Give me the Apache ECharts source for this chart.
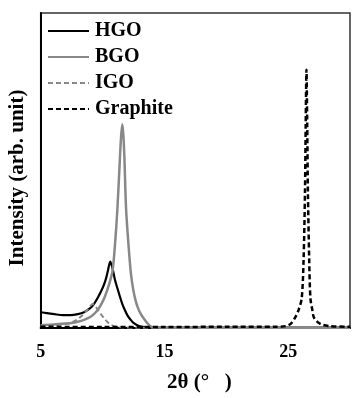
<!DOCTYPE html>
<html><head><meta charset="utf-8">
<script src="https://cdn.jsdelivr.net/npm/echarts@6/dist/echarts.min.js"></script>
<style>html,body{margin:0;padding:0;background:#fff}#c{width:353px;height:398px}</style>
</head><body><div id="c"></div>
<script>
var seriesNames = ['HGO', 'BGO', 'IGO', 'Graphite'];
var xTicks = [5, 15, 25];
var hgo = [[5.0,5.0],[5.5,4.7],[6.1,4.4],[6.8,4.1],[7.4,4.1],[8.0,4.4],[8.5,5.0],[9.0,6.3],[9.3,7.6],[9.6,9.5],[9.9,11.8],[10.1,13.6],[10.3,16.0],[10.45,18.5],[10.62,21.1],[10.75,19.8],[10.9,17.2],[11.0,15.3],[11.2,12.6],[11.4,10.0],[11.6,7.6],[11.8,5.7],[12.0,4.1],[12.25,2.7],[12.5,1.6],[13.0,0.5],[13.7,0.2],[15,0.1],[30,0.1]];
var bgo = [[5.0,0.9],[6.0,1.1],[7.0,1.4],[7.5,1.6],[8.0,2.0],[8.5,2.6],[9.0,3.5],[9.3,4.4],[9.6,5.7],[9.9,7.6],[10.2,10.1],[10.5,13.5],[10.8,18.0],[11.0,26.2],[11.2,37.9],[11.4,53.6],[11.5,61.0],[11.6,64.7],[11.7,60.0],[11.77,53.6],[11.9,37.9],[12.1,26.2],[12.3,17.0],[12.5,11.7],[12.7,8.3],[12.9,6.0],[13.1,4.4],[13.3,3.2],[13.6,1.6],[14.0,0.3],[15,0.1],[30,0.1]];
var igo = [[5.0,0.6],[6.0,0.8],[7.0,1.3],[7.4,1.6],[7.9,2.6],[8.3,3.8],[8.8,5.9],[9.0,6.9],[9.2,7.6],[9.4,7.0],[9.6,5.9],[9.85,4.5],[10.1,3.2],[10.5,1.5],[10.9,0.6],[11.5,0.2],[13,0.1],[30,0.1]];
var graphite = [[5,0.4],[10,0.3],[15,0.3],[20,0.4],[24,0.4],[24.8,0.6],[25.2,1.3],[25.55,3.2],[25.85,5.8],[26.1,9.5],[26.25,22],[26.36,43],[26.42,65],[26.48,82],[26.54,65],[26.6,43],[26.7,22],[26.8,9.5],[26.95,5.8],[27.1,3.2],[27.6,1.3],[28.4,0.6],[30,0.4]];

var FONT = '"Liberation Serif","Times New Roman",serif';
var chart = echarts.init(document.getElementById('c'), null, {renderer:'canvas'});
function mk(name, data, color, type, width) {
  return {name:name, type:'line', data:data, symbol:'none', showSymbol:false, smooth:0.3,
    lineStyle:{color:color, type:type, width:width}, itemStyle:{color:color}, animation:false};
}
chart.setOption({
  animation:false,
  grid:{left:40.7, right:1.5, top:13, bottom:68, show:true, borderColor:'#333', borderWidth:1.5},
  legend:{orient:'vertical', left:47, top:21, padding:0, itemWidth:41, itemHeight:14, itemGap:6,
    itemStyle:{color:'transparent', borderColor:'transparent', borderWidth:0},
    data:seriesNames, textStyle:{fontFamily:FONT, fontWeight:'bold', fontSize:20, color:'#000', lineHeight:19, padding:[0,0,0,1]}},
  xAxis:{type:'value', min:5, max:30, interval:10,
    axisLine:{show:true, lineStyle:{color:'#000', width:2}}, axisTick:{show:false}, splitLine:{show:false},
    axisLabel:{fontFamily:FONT, fontWeight:'bold', fontSize:18, color:'#000', margin:15,
      formatter:function(v){return xTicks.indexOf(v)>=0 ? String(v) : '';}},
    name:'2θ (°   )', nameLocation:'middle', nameGap:44,
    nameTextStyle:{fontFamily:FONT, fontWeight:'bold', fontSize:21, color:'#000', padding:[0,0,0,8]}},
  yAxis:{type:'value', min:0, max:100,
    axisLine:{show:true, lineStyle:{color:'#000', width:2}}, axisTick:{show:false}, axisLabel:{show:false}, splitLine:{show:false}},
  graphic:[{type:'text', x:18, y:178, rotation:Math.PI/2,
    style:{text:'Intensity (arb. unit)', align:'center', verticalAlign:'middle', fill:'#000',
      font:'bold 21px "Liberation Serif","Times New Roman",serif'}}],
  series:[
    mk('HGO', hgo, '#000000', 'solid', 2.2),
    mk('BGO', bgo, '#888888', 'solid', 2.5),
    mk('IGO', igo, '#888888', [5,3], 2),
    mk('Graphite', graphite, '#000000', [5,3], 2.5)
  ]
});
</script></body></html>
